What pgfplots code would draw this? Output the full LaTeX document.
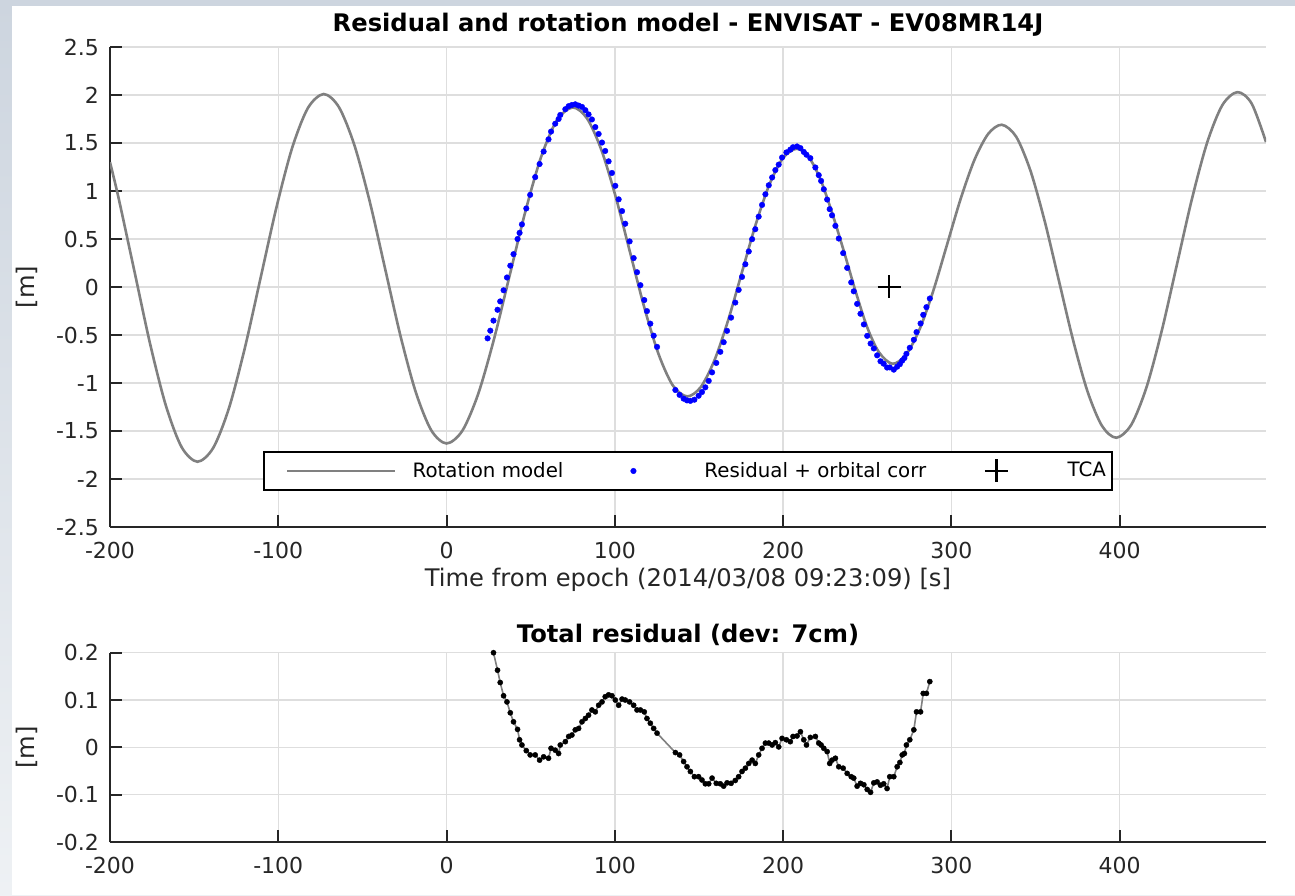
\documentclass[border=0pt]{standalone}
\usepackage{fontspec}
\setmainfont{DejaVu Sans}
\usepackage{pgfplots}
\pgfplotsset{compat=1.18}
\definecolor{bgtop}{RGB}{205,213,223}
\definecolor{bgbot}{RGB}{238,241,244}
\definecolor{gridc}{RGB}{222,222,222}
\definecolor{axc}{RGB}{38,38,38}
\definecolor{modelc}{RGB}{128,128,128}

\pgfplotstableread{
x y
-200 1.30
-194.9 0.927
-185.5 0.165
-176.1 -0.597
-166.75 -1.238
-157.4 -1.669
-148 -1.82
-138.6 -1.674
-129.25 -1.259
-119.9 -0.638
-110.5 0.095
-101.1 0.828
-91.75 1.449
-82.4 1.864
-73 2.01
-63.9 1.872
-54.75 1.477
-45.6 0.887
-36.5 0.19
-27.4 -0.507
-18.25 -1.097
-9.1 -1.492
0 -1.63
9.4 -1.497
18.75 -1.117
28.1 -0.55
37.5 0.12
46.9 0.79
56.25 1.357
65.6 1.737
75 1.87
83.5 1.756
92 1.429
100.5 0.941
109 0.365
117.5 -0.211
126 -0.699
134.5 -1.026
143 -1.14
151.1 -1.042
159.25 -0.762
167.4 -0.344
175.5 0.15
183.6 0.644
191.75 1.062
199.9 1.342
208 1.44
215 1.36
222 1.13
229 0.78
236 0.38
243 -0.04
250 -0.42
257 -0.68
265 -0.80
273.1 -0.705
281.25 -0.435
289.4 -0.032
297.5 0.445
305.6 0.922
313.75 1.325
321.9 1.595
330 1.69
338.5 1.566
347 1.212
355.5 0.684
364 0.06
372.5 -0.564
381 -1.092
389.5 -1.446
398 -1.57
407 -1.433
416 -1.043
425 -0.459
434 0.23
443 0.919
452 1.503
461 1.893
470 2.03
478.5 1.91
487 1.51
}\modeltable

\pgfplotstableread{
x y
24.4 -0.535
26.0 -0.455
27.9 -0.350
30.3 -0.237
31.9 -0.150
33.9 -0.034
35.9 0.099
37.9 0.222
39.8 0.342
42.2 0.500
43.4 0.564
44.8 0.652
47.4 0.818
49.7 0.960
52.7 1.145
55.3 1.281
57.7 1.411
60.6 1.538
62.1 1.619
64.6 1.701
66.6 1.750
67.6 1.792
70.6 1.852
72.6 1.884
74.5 1.896
76.5 1.903
78.5 1.890
80.5 1.876
82.5 1.842
84.4 1.798
86.4 1.745
88.4 1.666
90.4 1.594
92.4 1.505
94.3 1.417
96.3 1.309
98.3 1.188
100.3 1.054
102.3 0.913
104.3 0.791
106.2 0.659
108.8 0.475
111.2 0.301
113.2 0.154
115.2 0.019
117.5 -0.136
119.1 -0.251
121.1 -0.382
123.1 -0.507
125.1 -0.624
136.0 -1.073
138.5 -1.124
140.9 -1.163
142.9 -1.181
144.9 -1.186
147.3 -1.174
149.8 -1.133
151.8 -1.094
153.8 -1.045
155.8 -0.978
157.8 -0.889
160.3 -0.791
162.7 -0.675
164.7 -0.575
166.7 -0.457
169.1 -0.319
171.6 -0.162
173.6 -0.030
175.6 0.105
177.6 0.237
179.6 0.370
181.6 0.498
183.5 0.602
185.5 0.733
187.5 0.855
189.5 0.966
191.5 1.060
193.5 1.141
195.4 1.218
197.4 1.275
199.4 1.349
202.0 1.402
204.3 1.431
205.9 1.456
208.3 1.464
210.3 1.447
212.3 1.407
213.9 1.378
216.2 1.342
219.2 1.245
221.2 1.165
222.6 1.105
224.2 1.018
226.2 0.911
227.7 0.811
229.1 0.747
231.1 0.637
233.1 0.505
235.7 0.353
238.1 0.199
240.5 0.048
242.0 -0.045
244.0 -0.176
246.0 -0.279
248.0 -0.390
250.0 -0.509
252.0 -0.589
253.9 -0.640
255.9 -0.712
257.9 -0.774
259.8 -0.799
261.8 -0.839
263.4 -0.838
265.8 -0.861
267.8 -0.830
269.4 -0.804
270.8 -0.767
272.1 -0.740
273.3 -0.696
275.3 -0.633
277.7 -0.550
279.3 -0.470
281.7 -0.380
283.3 -0.290
285.2 -0.210
287.2 -0.120
}\bluetable

\pgfplotstableread{
x y
27.9 0.200
30.3 0.163
31.9 0.137
33.9 0.109
35.9 0.096
37.9 0.073
39.8 0.054
42.2 0.038
43.4 0.016
44.8 0.005
47.4 -0.007
49.7 -0.016
52.7 -0.016
55.3 -0.027
57.7 -0.020
60.6 -0.023
62.1 -0.002
64.6 -0.006
66.6 -0.013
67.6 0.005
70.6 0.012
72.6 0.023
74.5 0.026
76.5 0.037
78.5 0.040
80.5 0.054
82.5 0.061
84.4 0.068
86.4 0.079
88.4 0.075
90.4 0.089
92.4 0.096
94.3 0.107
96.3 0.111
98.3 0.109
100.3 0.100
102.3 0.089
104.3 0.102
106.2 0.100
108.8 0.096
111.2 0.089
113.2 0.079
115.2 0.079
117.5 0.075
119.1 0.061
121.1 0.051
123.1 0.040
125.1 0.030
136.0 -0.011
138.5 -0.016
140.9 -0.030
142.9 -0.041
144.9 -0.051
147.3 -0.062
149.8 -0.062
151.8 -0.069
153.8 -0.077
155.8 -0.077
157.8 -0.065
160.3 -0.076
162.7 -0.077
164.7 -0.082
166.7 -0.075
169.1 -0.076
171.6 -0.070
173.6 -0.062
175.6 -0.051
177.6 -0.044
179.6 -0.034
181.6 -0.027
183.5 -0.034
185.5 -0.016
187.5 -0.002
189.5 0.009
191.5 0.009
193.5 0.005
195.4 0.010
197.4 0.001
199.4 0.019
202.0 0.016
204.3 0.012
205.9 0.023
208.3 0.024
210.3 0.033
212.3 0.016
213.9 0.005
216.2 0.021
219.2 0.023
221.2 0.009
222.6 0.005
224.2 -0.002
226.2 -0.009
227.7 -0.034
229.1 -0.027
231.1 -0.023
233.1 -0.041
235.7 -0.044
238.1 -0.055
240.5 -0.062
242.0 -0.065
244.0 -0.082
246.0 -0.076
248.0 -0.079
250.0 -0.089
252.0 -0.095
253.9 -0.075
255.9 -0.073
257.9 -0.080
259.8 -0.077
261.8 -0.087
263.4 -0.062
265.8 -0.062
267.8 -0.041
269.4 -0.032
270.8 -0.016
272.1 -0.013
273.3 0.005
275.3 0.016
277.7 0.037
279.3 0.075
281.7 0.075
283.3 0.114
285.2 0.114
287.2 0.139
}\restable

\pgfplotsset{
  mystyle/.style={
    scale only axis, width=578pt,
    xmin=-200, xmax=487,
    axis lines=left,
    axis line style={-, line width=1pt, draw=axc},
    tick align=inside, major tick length=6pt,
    tick style={line width=1pt, draw=axc},
    xtick={-200,-100,0,100,200,300,400},
    grid=major, grid style={line width=0.7pt, draw=gridc},
    /pgf/number format/assume math mode=true,
    scaled ticks=false,
    ticklabel style={font=\fontsize{11}{13}\selectfont, text=axc},
    xticklabel style={yshift=-4pt},
    yticklabel style={xshift=-2pt},
    title style={font=\fontsize{12.1}{14}\selectfont\bfseries, anchor=center, yshift=-7pt},
    label style={font=\fontsize{12.1}{14}\selectfont, text=axc, anchor=center},
  },
  lineleg/.style={legend image code/.code={\path (-10pt,0pt); \draw[##1] (0pt,0pt) -- (54pt,0pt);}},
  markleg/.style={legend image code/.code={\path (0pt,0pt) (54pt,0pt); \draw[mark repeat=2, mark phase=2, ##1] plot coordinates {(0pt,0pt) (27pt,0pt) (54pt,0pt)};}},
}

\begin{document}
\begin{tikzpicture}
\shade[top color=bgtop, bottom color=bgbot] (0,0) rectangle (647.5pt,447.5pt);
\fill[white] (6pt,0) rectangle (647.5pt,444.5pt);

\begin{axis}[mystyle,
  at={(55pt,184pt)}, anchor=south west, height=240pt,
  ymin=-2.5, ymax=2.5,
  ytick={-2.5,-2,-1.5,-1,-0.5,0,0.5,1,1.5,2,2.5},
  title={Residual and rotation model - ENVISAT - EV08MR14J},
  title style={at={(axis description cs:0.5,1.05)}},
  xlabel={Time from epoch (2014/03/08 09:23:09) [s]},
  xlabel style={at={(axis description cs:0.5,-0.1104)}},
  ylabel={[m]},
  ylabel style={at={(axis description cs:-0.0718,0.5)}},
  legend columns=-1,
  legend style={at={(axis description cs:0.5,0.1167)}, anchor=center,
    draw=black, line width=1pt, fill=white,
    font=\fontsize{9.9}{12}\selectfont,
    inner xsep=1pt, inner ysep=3pt,
    /tikz/every odd column/.append style={column sep=6pt},
    /tikz/every even column/.append style={column sep=5.5pt}},
]
\addplot[modelc, line width=1.3pt, smooth, no markers, lineleg]
  table[x=x,y=y] {\modeltable};
\addlegendentry{Rotation model}
\addplot[only marks, mark=*, mark size=1.4pt, blue,
  mark options={draw=blue, fill=blue, line width=0.2pt}, markleg]
  table[x=x,y=y] {\bluetable};
\addlegendentry{Residual + orbital corr}
\addplot[only marks, mark=+, mark size=5.75pt, black, line width=1.2pt, markleg]
  coordinates {(263,0)};
\addlegendentry{TCA}
\end{axis}

\begin{axis}[mystyle,
  at={(55pt,26.5pt)}, anchor=south west, height=94.65pt,
  ymin=-0.2, ymax=0.2,
  ytick={-0.2,-0.1,0,0.1,0.2},
  title={Total residual (dev: 7cm)},
  title style={at={(axis description cs:0.5,1.104)}},
  ylabel={[m]},
  ylabel style={at={(axis description cs:-0.0718,0.5)}},
]
\addplot[modelc, line width=0.8pt, mark=*, mark size=1.3pt,
  mark options={draw=black, fill=black, line width=0.2pt}]
  table[x=x,y=y] {\restable};
\end{axis}
\pgfresetboundingbox
\useasboundingbox (0,0) rectangle (647.5pt,447.5pt);
\end{tikzpicture}
\end{document}
